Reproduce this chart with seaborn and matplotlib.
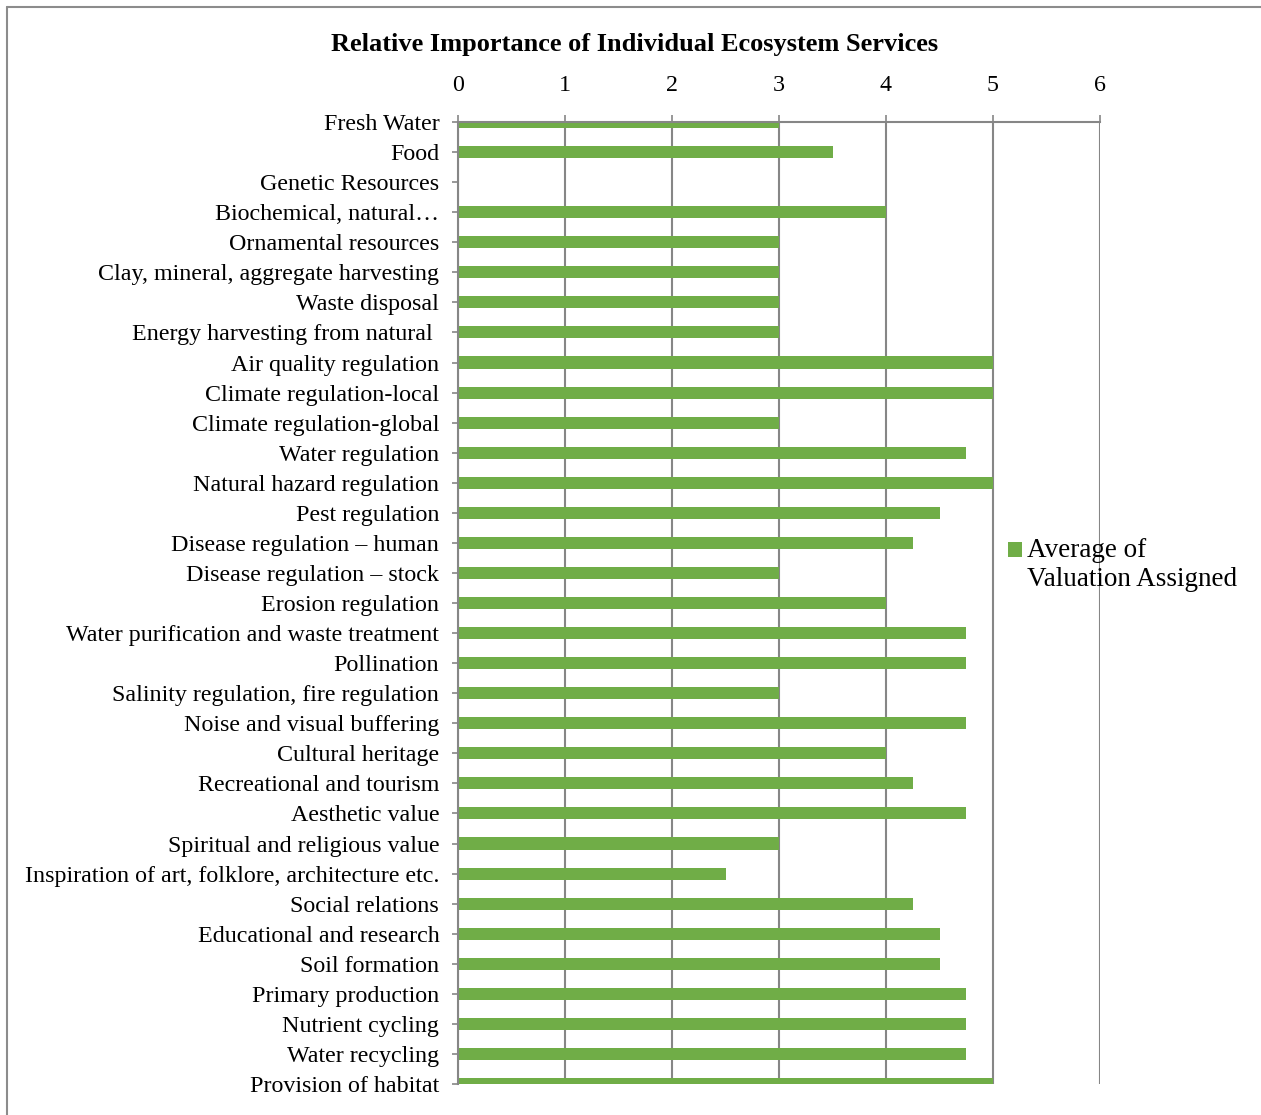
import numpy as np
import pandas as pd
import matplotlib
matplotlib.use("Agg")
import matplotlib.pyplot as plt
import seaborn as sns
from matplotlib.patches import Patch, Rectangle
from matplotlib.lines import Line2D
from matplotlib.legend_handler import HandlerPatch

services = [
    "Fresh Water", "Food", "Genetic Resources", "Biochemical, natural\u2026",
    "Ornamental resources", "Clay, mineral, aggregate harvesting", "Waste disposal",
    "Energy harvesting from natural ", "Air quality regulation", "Climate regulation-local",
    "Climate regulation-global", "Water regulation", "Natural hazard regulation",
    "Pest regulation", "Disease regulation \u2013 human", "Disease regulation \u2013 stock",
    "Erosion regulation", "Water purification and waste treatment", "Pollination",
    "Salinity regulation, fire regulation", "Noise and visual buffering", "Cultural heritage",
    "Recreational and tourism", "Aesthetic value", "Spiritual and religious value",
    "Inspiration of art, folklore, architecture etc.", "Social relations",
    "Educational and research", "Soil formation", "Primary production",
    "Nutrient cycling", "Water recycling", "Provision of habitat",
]
values = [
    3, 3.5, 0, 4, 3, 3, 3, 3, 5, 5, 3, 4.75, 5, 4.5, 4.25, 3, 4, 4.75, 4.75, 3,
    4.75, 4, 4.25, 4.75, 3, 2.5, 4.25, 4.5, 4.5, 4.75, 4.75, 4.75, 5,
]
series_name = "Average of\nValuation Assigned"
xticks = [0, 1, 2, 3, 4, 5, 6]

df = pd.DataFrame({"service": services, "value": values})

sns.set_theme(style="white")
plt.rcParams["font.family"] = ["Liberation Serif", "DejaVu Serif"]
plt.rcParams["text.color"] = "black"

W, H = 1261, 1115
fig = plt.figure(figsize=(W / 100, H / 100), dpi=100)
ax = fig.add_axes([458 / W, 1 - 1084 / H, (1100 - 458) / W, (1084 - 122) / H])

green = "#70AD47"
grey = "#868686"

sns.barplot(data=df, x="value", y="service", order=services, orient="h",
            color=green, width=0.4, saturation=1, ax=ax, zorder=3,
            edgecolor="none", linewidth=0, errorbar=None)

ax.set_xlim(0, 6)
ax.set_ylim(len(services) - 1, 0)
ax.set_xticks(xticks)
ax.xaxis.tick_top()
ax.set_xlabel("")
ax.set_ylabel("")
ax.set_axisbelow(True)
ax.grid(axis="x", color=grey, linewidth=1.5, linestyle="-")
ax.grid(axis="y", visible=False)

for s in ["right", "bottom"]:
    ax.spines[s].set_visible(False)
for s in ["left", "top"]:
    ax.spines[s].set_color(grey)
    ax.spines[s].set_linewidth(1.5)
    ax.spines[s].set_zorder(4)

ax.tick_params(axis="x", which="major", top=True, bottom=False, length=5, width=1.2,
               color=grey, pad=14, labelsize=17.3, labelcolor="black")
ax.tick_params(axis="y", which="major", left=True, length=4.5, width=1.2,
               color=grey, pad=9, labelsize=17.3, labelcolor="black")

fig.text(635 / W, 1 - 44 / H, "Relative Importance of Individual Ecosystem Services",
         ha="center", va="center", fontsize=19, fontweight="bold", color="black")


def top_square(legend, orig_handle, xdescent, ydescent, width, height, fontsize):
    return Rectangle((-xdescent, -ydescent + 11), width, height)


handle = Patch(facecolor=green, edgecolor="none")
leg = ax.legend([handle], [series_name], loc="center left",
                bbox_to_anchor=(1008 / W, 1 - 565 / H), bbox_transform=fig.transFigure,
                frameon=False, fontsize=19.5, handlelength=0.5, handleheight=0.5,
                handletextpad=0.2, borderaxespad=0, borderpad=0,
                labelcolor="black",
                handler_map={Patch: HandlerPatch(patch_func=top_square)})
leg.set_zorder(5)

# figure border (top and left edges)
fig.add_artist(Line2D([7 / W, 7 / W], [0, 1 - 7 / H], transform=fig.transFigure,
                      color="#8c8c8c", lw=1.5))
fig.add_artist(Line2D([7 / W, 1], [1 - 7 / H, 1 - 7 / H], transform=fig.transFigure,
                      color="#8c8c8c", lw=1.5))

fig.savefig("out.png", dpi=100, facecolor="white")
